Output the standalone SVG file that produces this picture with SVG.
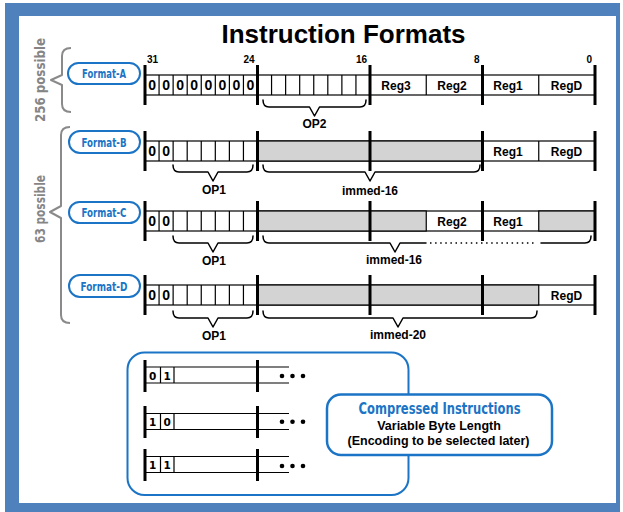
<svg xmlns="http://www.w3.org/2000/svg" width="623" height="512" viewBox="0 0 623 512">
<style>
.cell{fill:#fff;stroke:#000;stroke-width:1.2}
.gcell{fill:#d3d3d3;stroke:#000;stroke-width:1.2}
.ln{stroke:#000;stroke-width:1.2;fill:none}
.bar{stroke:#000;stroke-width:3}
.brace{fill:none;stroke:#000;stroke-width:1.5;stroke-linejoin:round;stroke-linecap:round}
.dot{fill:none;stroke:#000;stroke-width:1.5;stroke-dasharray:1.5 3.6}
.gbrace{fill:none;stroke:#8a8a8a;stroke-width:2;stroke-linejoin:round}
.lbl{font-family:"Liberation Sans",Arial,sans-serif;font-weight:bold;font-size:12px;text-anchor:middle;fill:#000}
.bit{font-family:"Liberation Sans",Arial,sans-serif;font-weight:bold;font-size:10px;fill:#000}
.dig{font-family:"Liberation Sans",Arial,sans-serif;font-weight:bold;font-size:14px;text-anchor:middle;fill:#000}
.sdig{font-family:"DejaVu Sans",sans-serif;font-weight:bold;font-size:10.5px;text-anchor:middle;fill:#000}
.pill{fill:#fff;stroke:#1b74c5;stroke-width:2}
.ptx{font-family:"DejaVu Sans Condensed","DejaVu Sans",sans-serif;font-stretch:condensed;font-weight:bold;font-size:13px;fill:#1b74c5;text-anchor:middle}
.gtx{font-family:"DejaVu Sans Condensed","DejaVu Sans",sans-serif;font-stretch:condensed;font-weight:bold;font-size:14px;fill:#858585;text-anchor:middle}
.sdot{fill:#000}
</style>
<rect x="0" y="0" width="623" height="512" fill="#fff"/>
<rect x="5" y="3" width="615" height="512" fill="#4f81bd"/>
<rect x="19" y="16" width="597" height="487" fill="#fff"/>
<text x="343.5" y="43" font-family="Liberation Sans, Arial, sans-serif" font-weight="bold" font-size="26" text-anchor="middle">Instruction Formats</text>

<g id="group-256">
<path class="gbrace" d="M71 48 Q62 48 62 56 V75 L51 80 L62 85 V104 Q62 112 71 112"/>
<text class="gtx" transform="translate(45,80) rotate(-90)" textLength="84" lengthAdjust="spacingAndGlyphs">256 possible</text>
</g>
<g id="group-63">
<path class="gbrace" d="M70 127 Q61 127 61 135 V206 L50 212 L61 218 V315 Q61 323 70 323"/>
<text class="gtx" transform="translate(45,209) rotate(-90)" textLength="68" lengthAdjust="spacingAndGlyphs">63 possible</text>
</g>

<g id="format-a">
<rect class="pill" x="68" y="63" width="72" height="21" rx="10.5"/>
<text class="ptx" x="104" y="77.5" textLength="44" lengthAdjust="spacingAndGlyphs">Format-A</text>
<text class="bit" x="147" y="63">31</text>
<text class="bit" x="254.5" y="63" text-anchor="end">24</text>
<text class="bit" x="367" y="63" text-anchor="end">16</text>
<text class="bit" x="479.5" y="63" text-anchor="end">8</text>
<text class="bit" x="592" y="63" text-anchor="end">0</text>
<rect class="cell" x="145" y="75" width="450" height="20"/>
<path class="ln" d="M159.06 75V95M173.13 75V95M187.19 75V95M201.25 75V95M215.31 75V95M229.38 75V95M243.44 75V95M271.56 75V95M285.63 75V95M299.69 75V95M313.75 75V95M327.81 75V95M341.88 75V95M355.94 75V95M426.25 75V95M538.75 75V95"/>
<text class="dig" x="152.03" y="90">0</text><text class="dig" x="166.09" y="90">0</text><text class="dig" x="180.16" y="90">0</text><text class="dig" x="194.22" y="90">0</text><text class="dig" x="208.28" y="90">0</text><text class="dig" x="222.34" y="90">0</text><text class="dig" x="236.41" y="90">0</text><text class="dig" x="250.47" y="90">0</text>
<text class="lbl" x="396" y="89.5">Reg3</text>
<text class="lbl" x="452" y="89.5">Reg2</text>
<text class="lbl" x="508" y="89.5">Reg1</text>
<text class="lbl" x="566.5" y="89.5">RegD</text>
<path class="bar" d="M145 65V105M257.5 65V105M370 65V105M482.5 65V105M595 65V105"/>
</g>

<g id="format-b">
<rect class="pill" x="69" y="131" width="71" height="22" rx="11"/>
<text class="ptx" x="104" y="146.5" textLength="45" lengthAdjust="spacingAndGlyphs">Format-B</text>
<rect class="cell" x="145" y="141" width="450" height="20"/>
<rect class="gcell" x="257.5" y="141" width="225" height="20"/>
<path class="ln" d="M159.06 141V161M173.13 141V161M187.19 141V161M201.25 141V161M215.31 141V161M229.38 141V161M243.44 141V161M538.75 141V161"/>
<text class="dig" x="152.03" y="156">0</text><text class="dig" x="166.09" y="156">0</text>
<text class="lbl" x="508" y="155.5">Reg1</text>
<text class="lbl" x="566.5" y="155.5">RegD</text>
<path class="bar" d="M145 131V171M257.5 131V171M370 131V171M482.5 131V171M595 131V171"/>
</g>

<g id="format-c">
<rect class="pill" x="69" y="202" width="71" height="21" rx="10.5"/>
<text class="ptx" x="104" y="216.5" textLength="45" lengthAdjust="spacingAndGlyphs">Format-C</text>
<rect class="cell" x="145" y="211" width="450" height="20"/>
<rect class="gcell" x="257.5" y="211" width="168.75" height="20"/>
<rect class="gcell" x="538.75" y="211" width="56.25" height="20"/>
<path class="ln" d="M159.06 211V231M173.13 211V231M187.19 211V231M201.25 211V231M215.31 211V231M229.38 211V231M243.44 211V231"/>
<text class="dig" x="152.03" y="226">0</text><text class="dig" x="166.09" y="226">0</text>
<text class="lbl" x="452" y="225.5">Reg2</text>
<text class="lbl" x="508" y="225.5">Reg1</text>
<path class="bar" d="M145 201V241M257.5 201V241M370 201V241M482.5 201V241M595 201V241"/>
</g>

<g id="format-d">
<rect class="pill" x="69" y="275" width="71" height="22" rx="11"/>
<text class="ptx" x="104" y="290.5" textLength="47" lengthAdjust="spacingAndGlyphs">Format-D</text>
<rect class="cell" x="145" y="285" width="450" height="20"/>
<rect class="gcell" x="257.5" y="285" width="281.25" height="20"/>
<path class="ln" d="M159.06 285V305M173.13 285V305M187.19 285V305M201.25 285V305M215.31 285V305M229.38 285V305M243.44 285V305"/>
<text class="dig" x="152.03" y="300">0</text><text class="dig" x="166.09" y="300">0</text>
<text class="lbl" x="566.5" y="299.5">RegD</text>
<path class="bar" d="M145 275V315M257.5 275V315M370 275V315M482.5 275V315M595 275V315"/>
</g>

<g id="connectors">
<path class="brace" d="M263 100 Q263 107 269 107 H309.5 L314.5 116 L319.5 107 H360 Q366 107 366 100"/>
<path class="brace" d="M173 165 Q173 172 179 172 H208 L213 181 L218 172 H247 Q253 172 253 165"/>
<path class="brace" d="M263 165 Q263 172 269 172 H365 L370 181 L375 172 H474 Q480 172 480 165"/>
<path class="brace" d="M173 236 Q173 243 179 243 H208 L213 252 L218 243 H247 Q253 243 253 236"/>
<path class="brace" d="M263 236 Q263 243 269 243 H390 L395 252 L400 243 H426"/>
<path class="dot" d="M430 243 H537"/>
<path class="brace" d="M541 243 H585 Q591 243 591 236"/>
<path class="brace" d="M173 311 Q173 318 179 318 H208 L213 327 L218 318 H247 Q253 318 253 311"/>
<path class="brace" d="M263 311 Q263 318 269 318 H393 L398 327 L403 318 H531 Q537 318 537 311"/>
</g>
<g id="brace-labels">
<text class="lbl" x="314.5" y="128">OP2</text>
<text class="lbl" x="214" y="194">OP1</text>
<text class="lbl" x="370" y="195">immed-16</text>
<text class="lbl" x="214" y="265">OP1</text>
<text class="lbl" x="394" y="264">immed-16</text>
<text class="lbl" x="214" y="340">OP1</text>
<text class="lbl" x="398" y="339">immed-20</text>
</g>

<g id="compressed-rows">
<rect x="127.5" y="352.5" width="281" height="142.5" rx="17" fill="#fff" stroke="#1b74c5" stroke-width="2"/>
<path class="ln" d="M145 367H289M145 383H289M160.5 367V383M174 367V383"/>
<path class="bar" d="M145 360V392M257.5 360V392"/>
<text class="sdig" x="152.7" y="379.5">0</text><text class="sdig" x="167.2" y="379.5">1</text>
<circle class="sdot" cx="282" cy="376" r="2.3"/><circle class="sdot" cx="292.5" cy="376" r="2.3"/><circle class="sdot" cx="303" cy="376" r="2.3"/>
<path class="ln" d="M145 413.5H289M145 429.5H289M160.5 413.5V429.5M174 413.5V429.5"/>
<path class="bar" d="M145 406V438M257.5 406V438"/>
<text class="sdig" x="152.7" y="426">1</text><text class="sdig" x="167.2" y="426">0</text>
<circle class="sdot" cx="282" cy="421.7" r="2.3"/><circle class="sdot" cx="292.5" cy="421.7" r="2.3"/><circle class="sdot" cx="303" cy="421.7" r="2.3"/>
<path class="ln" d="M145 456.5H289M145 472.5H289M160.5 456.5V472.5M174 456.5V472.5"/>
<path class="bar" d="M145 449V481M257.5 449V481"/>
<text class="sdig" x="152.7" y="469">1</text><text class="sdig" x="167.2" y="469">1</text>
<circle class="sdot" cx="282" cy="466" r="2.3"/><circle class="sdot" cx="292.5" cy="466" r="2.3"/><circle class="sdot" cx="303" cy="466" r="2.3"/>
</g>

<g id="compressed-label">
<rect x="327" y="394.5" width="225" height="60.5" rx="14" fill="#fff" stroke="#1b74c5" stroke-width="2.5"/>
<text class="ptx" x="439.5" y="414" font-size="16" textLength="162" lengthAdjust="spacingAndGlyphs" style="font-size:16px">Compressed Instructions</text>
<text class="lbl" x="439" y="429.5" style="font-size:12.5px">Variable Byte Length</text>
<text class="lbl" x="438.5" y="444.5" style="font-size:12.5px">(Encoding to be selected later)</text>
</g>
</svg>
